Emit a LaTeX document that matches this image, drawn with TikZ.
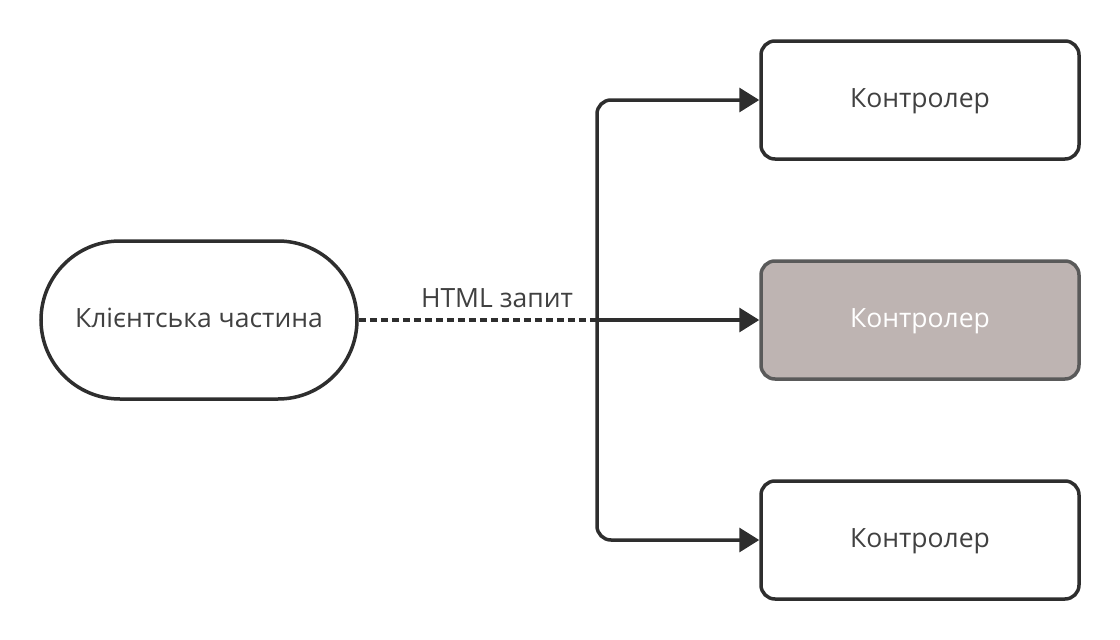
\documentclass[tikz,border=0pt]{standalone}
\usepackage{fontspec}
\setmainfont{Open Sans}
\usetikzlibrary{arrows.meta}
\definecolor{ink}{HTML}{2E2E2E}
\definecolor{txt}{HTML}{404040}
\definecolor{midfill}{HTML}{BEB4B2}
\definecolor{midborder}{HTML}{5A5A5A}
\tikzset{
  box/.style={draw=ink, line width=3.5pt, rounded corners=14pt, minimum width=318pt, minimum height=118pt, inner sep=0pt, text height=20pt, text depth=6pt, text=txt, font=\fontsize{26.5pt}{30pt}\selectfont},
  midbox/.style={box, draw=midborder, fill=midfill, text=white},
  client/.style={draw=ink, line width=3.5pt, rounded corners=79pt, minimum width=316pt, minimum height=158pt, inner sep=0pt, text height=20pt, text depth=6pt, text=txt, font=\fontsize{26.5pt}{30pt}\selectfont},
  conn/.style={draw=ink, line width=3.5pt},
  tip/.style={-{Triangle[length=20pt,width=24pt]}},
  lbl/.style={text=txt, font=\fontsize{26.5pt}{30pt}\selectfont}
}
\begin{document}
\begin{tikzpicture}[x=1pt,y=-1pt]
\useasboundingbox (0,0) rectangle (1120,640);
\node[client] (cl) at (199,320) {Клієнтська частина};
\node[box] (c1) at (920,100) {Контролер};
\node[midbox] (c2) at (920,320) {Контролер};
\node[box] (c3) at (920,540) {Контролер};
\coordinate (j) at (597,320);
\draw[conn, dashed, dash pattern=on 7pt off 4pt] (cl.east) -- (j);
\draw[conn, tip] (j) -- (c2.west);
\draw[conn, tip, rounded corners=14pt] (j) |- (c1.west);
\draw[conn, tip, rounded corners=14pt] (j) |- (c3.west);
\node[lbl] (l) at (497,298) {HTML запит};
\end{tikzpicture}
\end{document}
